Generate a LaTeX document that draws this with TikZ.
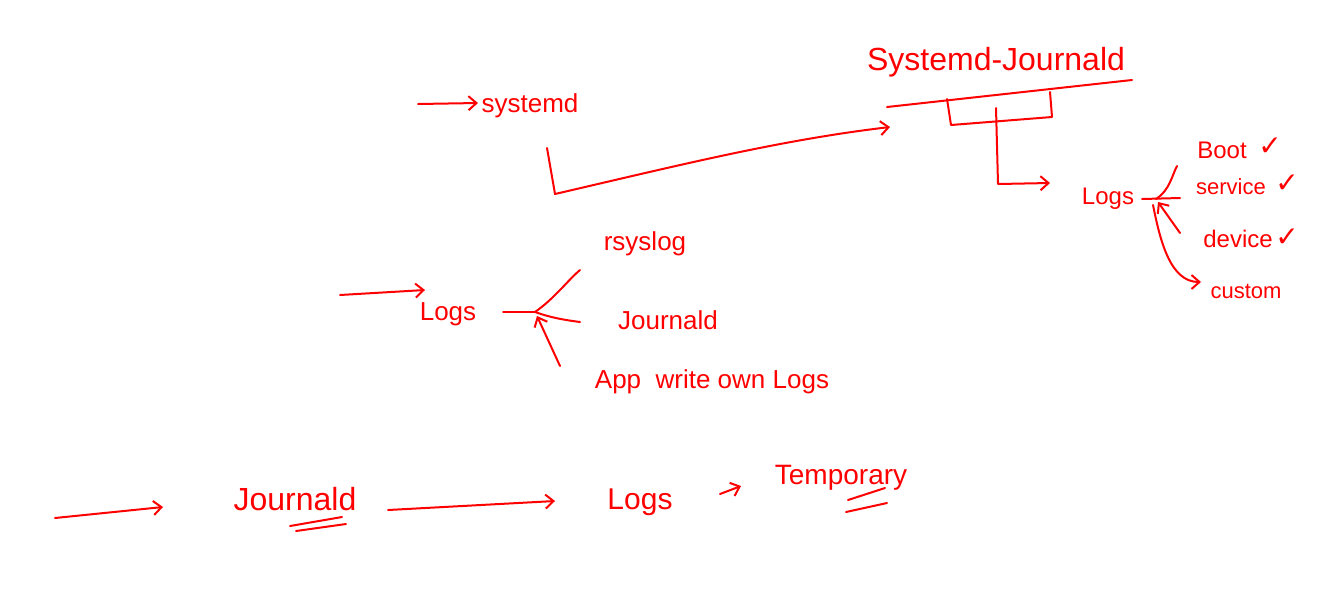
\documentclass[tikz,border=0pt]{standalone}
\usepackage{fontspec}
\setmainfont{Liberation Sans}
\newfontfamily\symfont{DejaVu Sans}
\usetikzlibrary{arrows.meta}
\definecolor{ink}{RGB}{255,0,0}
\tikzset{
  pen/.style={draw=ink, line width=1pt, line cap=round, line join=round},
  arr/.style={pen, -{Straight Barb[length=4pt,width=7pt]}},
  lbl/.style={text=ink, inner sep=0pt, anchor=center},
  tick/.style={lbl, font=\symfont\fontsize{14}{16}\selectfont},
}
\begin{document}
\begin{tikzpicture}[x=0.5pt,y=-0.5pt]
\useasboundingbox (0,0) rectangle (1326,601);

% ---------- top: systemd -> Systemd-Journald ----------
\node[lbl, font=\fontsize{13}{15}\selectfont] (sysd) at (530,106) {systemd};
\coordinate (a1) at (418,104);
\coordinate (a2) at (478,103);
\draw[arr] (a1) -- (a2);

\node[lbl, font=\fontsize{16}{19}\selectfont] (sj) at (996,62) {Systemd-Journald};
\coordinate (ulA) at (887,107);
\coordinate (ulB) at (1132,80);
\draw[pen] (ulA) -- (ulB);

\coordinate (s1) at (547,148);
\coordinate (s2) at (555,194);
\coordinate (s3) at (890,127);
\draw[arr] (s1) -- (s2) .. controls (680,165) and (780,140) .. (s3);

% bracket under Systemd-Journald
\coordinate (b1) at (947,99);
\coordinate (b2) at (951,125);
\coordinate (b3) at (1052,117);
\coordinate (b4) at (1050,92);
\draw[pen] (b1) -- (b2) -- (b3) -- (b4);

\node[lbl, font=\fontsize{12}{14}\selectfont] (logsR) at (1108,199) {Logs};
\coordinate (d1) at (996,108);
\coordinate (d2) at (998,184);
\coordinate (d3) at (1050,183);
\draw[arr] (d1) -- (d2) -- (d3);

% right Logs branches
\coordinate (jR) at (1156,199);
\draw[pen] (1142,199) -- (1180,198);
\draw[pen] (jR) .. controls (1170,190) and (1172,175) .. (1177,166);
\draw[arr] (1180,233) -- (1158,202);
\coordinate (cu) at (1201,282);
\draw[arr] (1153,205) .. controls (1160,240) and (1170,282) .. (cu);

\node[lbl, font=\fontsize{12}{14}\selectfont] (boot) at (1222,150) {Boot};
\node[lbl, font=\fontsize{11}{13}\selectfont] (serv) at (1231,187) {service};
\node[lbl, font=\fontsize{12}{14}\selectfont] (dev) at (1238,239) {device};
\node[lbl, font=\fontsize{11}{13}\selectfont] (cust) at (1246,291) {custom};
\node[tick] (ck1) at (1270,147) {✓};
\node[tick] (ck2) at (1287,184) {✓};
\node[tick] (ck3) at (1287,238) {✓};

% ---------- middle: Logs -> rsyslog / Journald / App ----------
\coordinate (m0) at (340,295);
\coordinate (m1) at (425,290);
\node[lbl, font=\fontsize{13}{15}\selectfont] (logsM) at (448,314) {Logs};
\draw[arr] (m0) -- (m1);
\coordinate (jM) at (535,312);
\draw[pen] (503,312) -- (jM);
\draw[pen] (jM) .. controls (555,298) and (568,280) .. (580,270);
\draw[pen] (jM) .. controls (552,318) and (565,320) .. (580,322);
\draw[arr] (560,366) -- (537,316);

\node[lbl, font=\fontsize{13}{15}\selectfont] (rsys) at (645,244) {rsyslog};
\node[lbl, font=\fontsize{13}{15}\selectfont] (jM2) at (668,320) {Journald};
\node[lbl, font=\fontsize{13}{15}\selectfont] (app) at (712,382) {App\ \ write own Logs};

% ---------- bottom: Journald -> Logs -> Temporary ----------
\coordinate (q0) at (55,518);
\coordinate (q1) at (163,507);
\node[lbl, font=\fontsize{16}{18}\selectfont] (jB) at (295,499) {Journald};
\draw[arr] (q0) -- (q1);
\draw[pen] (290,526) -- (342,517);
\draw[pen] (296,531) -- (346,524);

\node[lbl, font=\fontsize{15}{17}\selectfont] (logsB) at (640,502) {Logs};
\coordinate (r0) at (388,510);
\coordinate (r1) at (555,501);
\draw[arr] (r0) -- (r1);
\coordinate (t0) at (720,494);
\coordinate (t1) at (741,486);
\node[lbl, font=\fontsize{14}{16}\selectfont] (temp) at (841,478) {Temporary};
\draw[arr] (t0) -- (t1);
\draw[pen] (848,500) -- (885,488);
\draw[pen] (846,512) -- (887,503);
\end{tikzpicture}
\end{document}
